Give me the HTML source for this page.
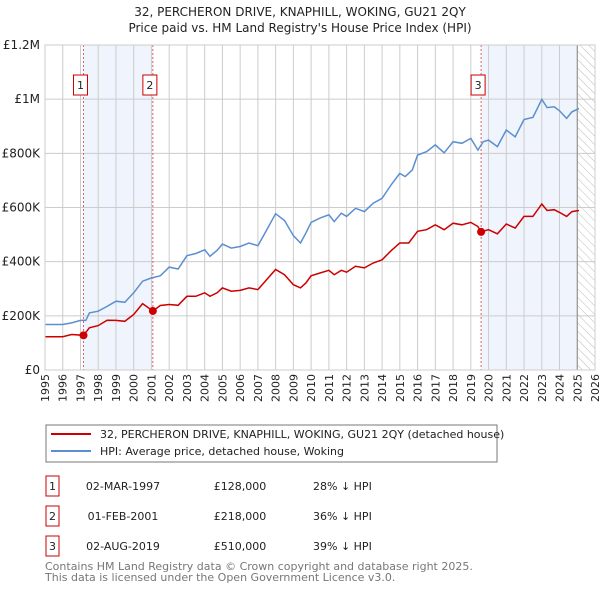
<!DOCTYPE html>
<html><head><meta charset="utf-8"><style>
body{margin:0;background:#fff;font-family:"Liberation Sans","DejaVu Sans",sans-serif;}
svg text{font-family:"DejaVu Sans","Liberation Sans",sans-serif;}
</style></head><body>
<svg id="c" width="600" height="590" viewBox="0 0 600 590" xmlns="http://www.w3.org/2000/svg">
<defs><pattern id="hatch" width="6" height="6" patternUnits="userSpaceOnUse" patternTransform="rotate(-45)"><line x1="0" y1="0" x2="0" y2="6" stroke="#bbb" stroke-width="1"/></pattern></defs>
<text x="300" y="16" text-anchor="middle" font-size="12" fill="#222">32, PERCHERON DRIVE, KNAPHILL, WOKING, GU21 2QY</text>
<text x="300" y="32" text-anchor="middle" font-size="12" fill="#222">Price paid vs. HM Land Registry's House Price Index (HPI)</text>
<g id="plot"></g>
<rect x="46" y="425" width="451" height="37" fill="#fff" stroke="#777"/>
<line x1="51" y1="434" x2="91" y2="434" stroke="#cc0000" stroke-width="2"/>
<text x="100" y="438" font-size="11" fill="#222">32, PERCHERON DRIVE, KNAPHILL, WOKING, GU21 2QY (detached house)</text>
<line x1="51" y1="451" x2="91" y2="451" stroke="#5b8fd0" stroke-width="2"/>
<text x="100" y="455" font-size="11" fill="#222">HPI: Average price, detached house, Woking</text>
<g id="table" font-size="11" fill="#222"></g>
<text x="45" y="570" font-size="11" fill="#777">Contains HM Land Registry data © Crown copyright and database right 2025.</text>
<text x="45" y="581" font-size="11" fill="#777">This data is licensed under the Open Government Licence v3.0.</text>
</svg>
<script>
const hpiYears=[1995,1996,1996.5,1997,1997.3,1997.5,1998,1998.5,1999,1999.5,2000,2000.5,2001,2001.5,2002,2002.5,2003,2003.5,2004,2004.3,2004.7,2005,2005.5,2006,2006.5,2007,2007.5,2008,2008.5,2009,2009.4,2009.7,2010,2010.5,2011,2011.3,2011.7,2012,2012.5,2013,2013.5,2014,2014.5,2015,2015.3,2015.7,2016,2016.5,2017,2017.5,2018,2018.5,2019,2019.4,2019.7,2020,2020.5,2021,2021.5,2022,2022.5,2023,2023.3,2023.7,2024,2024.4,2024.7,2025.1];
const hpiValues=[168,168,174,183,183,211,217,235,254,250,285,328,340,348,380,373,422,430,444,420,442,465,450,456,469,459,518,577,552,496,469,505,545,561,573,548,579,567,597,585,616,634,683,726,714,739,794,806,831,802,843,837,855,812,843,849,825,886,861,925,933,999,969,972,957,929,953,966];
const propYears=[1995,1996,1996.5,1997.17,1997.5,1998,1998.5,1999,1999.5,2000,2000.5,2001.08,2001.5,2002,2002.5,2003,2003.5,2004,2004.3,2004.7,2005,2005.5,2006,2006.5,2007,2007.5,2008,2008.5,2009,2009.4,2009.7,2010,2010.5,2011,2011.3,2011.7,2012,2012.5,2013,2013.5,2014,2014.5,2015,2015.5,2016,2016.5,2017,2017.5,2018,2018.5,2019,2019.4,2019.58,2020,2020.5,2021,2021.5,2022,2022.5,2023,2023.3,2023.7,2024,2024.4,2024.7,2025.1];
const propValues=[123,123,131,128,156,164,184,183,180,205,245,218,238,242,239,272,272,285,272,285,303,291,294,303,297,334,371,352,315,303,321,348,358,368,352,368,361,383,377,395,407,440,469,469,512,518,536,518,542,536,545,530,510,518,503,539,524,567,567,613,589,592,582,567,585,589];
const saleYears=[1997.17,2001.08,2019.58];
const saleValues=[128,218,510];
const saleLabels=["1","2","3"];
const saleDates=["02-MAR-1997","01-FEB-2001","02-AUG-2019"];
const salePrices=["£128,000","£218,000","£510,000"];
const salePcts=["28% ↓ HPI","36% ↓ HPI","39% ↓ HPI"];
const yTicks=[0,200,400,600,800,1000,1200];
const yTickLabels=["£0","£200K","£400K","£600K","£800K","£1M","£1.2M"];
const xTicks=[1995,1996,1997,1998,1999,2000,2001,2002,2003,2004,2005,2006,2007,2008,2009,2010,2011,2012,2013,2014,2015,2016,2017,2018,2019,2020,2021,2022,2023,2024,2025,2026];

const NS="http://www.w3.org/2000/svg";
const X0=45,X1=595,Y0=370,Y1=45;
const xs=y=>X0+(y-1995)*(X1-X0)/31;
const ys=v=>Y0-v*(Y0-Y1)/1200;
const plot=document.getElementById('plot');
function mk(tag,attrs,parent){const e=document.createElementNS(NS,tag);for(const k in attrs)e.setAttribute(k,attrs[k]);(parent||plot).appendChild(e);return e;}

let e;
e=mk('rect',{x:X0,y:Y1,width:X1-X0,height:Y0-Y1,fill:'#fff'});


e=mk('rect',{x:xs(saleYears[0]),y:Y1,width:xs(saleYears[1])-xs(saleYears[0]),height:Y0-Y1,fill:'#f0f4fc'});


e=mk('rect',{x:xs(saleYears[2]),y:Y1,width:xs(2025)-xs(saleYears[2]),height:Y0-Y1,fill:'#f0f4fc'});


e=mk('rect',{x:xs(2025),y:Y1,width:X1-xs(2025),height:Y0-Y1,fill:'url(#hatch)'});


xTicks.forEach(t=>{
  e=mk('line',{x1:xs(t),x2:xs(t),y1:Y1,y2:Y0,stroke:'#ccc','stroke-width':1});
  
  
  e=mk('text',{x:0,y:0,'font-size':11,fill:'#222','text-anchor':'end',transform:`translate(${xs(t)+4},${Y0+4}) rotate(-90)`});
  e.textContent=t;
  
  
});
yTicks.forEach((t,i)=>{
  e=mk('line',{x1:X0,x2:X1,y1:ys(t),y2:ys(t),stroke:'#ccc','stroke-width':1});
  
  
  e=mk('text',{x:X0-5,y:ys(t)+4,'font-size':12,fill:'#222','text-anchor':'end'});
  e.textContent=yTickLabels[i];
  
  
});
e=mk('line',{x1:xs(2025),x2:xs(2025),y1:Y1,y2:Y0,stroke:'#888','stroke-width':1});


saleYears.forEach((y,i)=>{
  e=mk('line',{x1:xs(y),x2:xs(y),y1:Y1,y2:Y0,stroke:'#e06060','stroke-width':1,'stroke-dasharray':'2,2'});
  
  
  e=mk('rect',{x:xs(y)-10,y:75,width:14,height:20,fill:'#fff',stroke:'#cc0000'});
  
  
  e=mk('text',{x:xs(y)-3,y:89,'font-size':11,fill:'#222','text-anchor':'middle'});
  e.textContent=saleLabels[i];
  
  
});
e=mk('path',{d:hpiYears.map((y,i)=>(i?'L':'M')+xs(y).toFixed(1)+','+ys(hpiValues[i]).toFixed(1)).join(''),fill:'none',stroke:'#5b8fd0','stroke-width':1.5});


e=mk('path',{d:propYears.map((y,i)=>(i?'L':'M')+xs(y).toFixed(1)+','+ys(propValues[i]).toFixed(1)).join(''),fill:'none',stroke:'#cc0000','stroke-width':1.5});


saleYears.forEach((y,i)=>{
  e=mk('circle',{cx:xs(y),cy:ys(saleValues[i]),r:4,fill:'#cc0000'});
  
  
});
e=mk('rect',{x:X0,y:Y1,width:X1-X0,height:Y0-Y1,fill:'none',stroke:'#ccc'});



const tbl=document.getElementById('table');
const rowY=[486,516,546];
saleLabels.forEach((l,i)=>{
  const cy=rowY[i];
  e=mk('rect',{x:46,y:cy-10,width:13,height:20,fill:'#fff',stroke:'#cc0000'},tbl);
  
  
  const cols=[[52.5,l,'middle'],[123,saleDates[i],'middle'],[240,salePrices[i],'middle'],[313,salePcts[i],'start']];
  cols.forEach(c=>{
    e=mk('text',{x:c[0],y:cy+4,'text-anchor':c[2]},tbl);
    e.textContent=c[1];
    
    
  });
});
</script>
</body></html>
